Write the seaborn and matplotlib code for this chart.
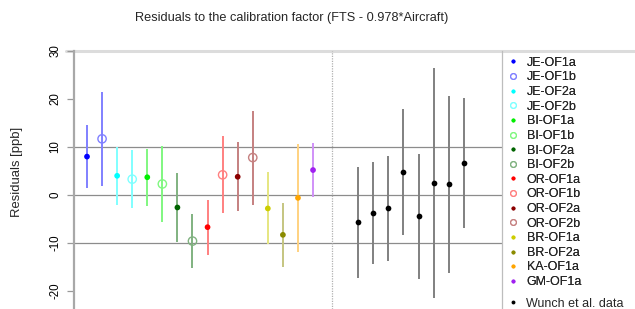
import numpy as np
import pandas as pd
import seaborn as sns
import matplotlib.pyplot as plt
from matplotlib.lines import Line2D
from matplotlib.colors import to_rgb

# ---------------- data ----------------
series_names = ['JE-OF1a', 'JE-OF1b', 'JE-OF2a', 'JE-OF2b', 'BI-OF1a', 'BI-OF1b',
                'BI-OF2a', 'BI-OF2b', 'OR-OF1a', 'OR-OF1b', 'OR-OF2a', 'OR-OF2b',
                'BR-OF1a', 'BR-OF2a', 'KA-OF1a', 'GM-OF1a']
series_values = [8.0, 11.7, 4.0, 3.3, 3.7, 2.3, -2.6, -9.6, -6.7, 4.2, 3.8, 7.8,
                 -2.8, -8.3, -0.6, 5.2]
series_errors = [6.5, 9.8, 6.0, 6.1, 5.9, 8.0, 7.2, 5.6, 5.7, 8.0, 7.2, 9.8,
                 7.5, 6.6, 11.3, 5.6]
series_colors = ['#0000ff', '#0000ff', '#00ffff', '#00ffff', '#00ee00', '#00ee00',
                 '#006400', '#006400', '#ff0000', '#ff0000', '#8b0000', '#8b0000',
                 '#cdcd00', '#8b8b00', '#ffa500', '#a020f0']
series_filled = [True, False, True, False, True, False, True, False,
                 True, False, True, False, True, True, True, True]

wunch_values = [-5.7, -3.8, -2.8, 4.8, -4.4, 2.5, 2.2, 6.7]
wunch_errors = [11.6, 10.6, 11.0, 13.1, 13.0, 23.9, 18.4, 13.5]

title = 'Residuals to the calibration factor (FTS - 0.978*Aircraft)'
ylabel = 'Residuals [ppb]'


def faded(c, a=0.5):
    # colour drawn with transparency over white
    return tuple(1 - a * (1 - v) for v in to_rgb(c))


# ---------------- build table ----------------
df = pd.DataFrame({'name': series_names, 'value': series_values, 'err': series_errors,
                   'color': series_colors, 'filled': series_filled})
df['x'] = np.arange(1, len(df) + 1)
wunch = pd.DataFrame({'value': wunch_values, 'err': wunch_errors})
wunch['x'] = np.arange(19, 19 + len(wunch))

sns.set_style('white')
plt.rcParams['font.family'] = ['Liberation Sans', 'DejaVu Sans']

fig = plt.figure(figsize=(6.35, 3.09), dpi=100)
ax = fig.add_axes([73.5 / 635, 0.0, (502 - 73.5) / 635, 258 / 309])

# reference lines
for h in [-10, 0, 10]:
    ax.axhline(h, color='#8c8c8c', lw=0.9, zorder=0)
ax.axhline(30, xmin=-0.018, xmax=(635 - 73.5) / (502 - 73.5), color='#dcdcdc', lw=2.2,
           clip_on=False, zorder=0)
ax.axvline(17.25, color='#b0b0b0', lw=0.9, ls=(0, (1, 1)), zorder=0)

# error bars
for _, r in df.iterrows():
    ax.vlines(r['x'], r['value'] - r['err'], r['value'] + r['err'],
              color=faded(r['color']), lw=1.4, zorder=1)
ax.vlines(wunch['x'], wunch['value'] - wunch['err'], wunch['value'] + wunch['err'],
          color=faded('black', 0.5), lw=1.4, zorder=1)

# points
filled = df[df['filled']]
hollow = df[~df['filled']]
sns.scatterplot(data=filled, x='x', y='value', hue='name',
                palette=dict(zip(filled['name'], filled['color'])),
                s=17, linewidth=0, legend=False, ax=ax, zorder=3)
sns.scatterplot(data=hollow, x='x', y='value', hue='name',
                palette={n: faded(c) for n, c in zip(hollow['name'], hollow['color'])},
                s=36, linewidth=1.0, legend=False, ax=ax, zorder=3)
hollow_pts = ax.collections[-1]
hollow_pts.set_edgecolor([faded(c) for c in hollow['color']])
hollow_pts.set_facecolor('none')
sns.scatterplot(data=wunch, x='x', y='value', color='black', s=17, linewidth=0,
                legend=False, ax=ax, zorder=3)

ax.set_xlim(0.104, 28.54)
ax.set_ylim(-23.75, 30)
ax.set_xticks([])
ax.set_yticks([-20, -10, 0, 10, 20, 30])
ax.set_yticklabels(['-20', '-10', '0', '10', '20', '30'], rotation=90, va='center',
                   fontsize=8.3)
ax.tick_params(axis='y', left=True, length=5.4, width=0.9, color='#999999', pad=3.5,
               labelcolor='black')
ax.set_xlabel('')
ax.set_ylabel(ylabel, fontsize=9.4)
ax.yaxis.set_label_coords(-(73.5 - 23) / (502 - 73.5), (309 - 172) / 258)

for s in ['top', 'bottom']:
    ax.spines[s].set_visible(False)
ax.spines['left'].set_color('#a8a8a8')
ax.spines['left'].set_linewidth(1.6)
ax.spines['right'].set_color('#bdbdbd')
ax.spines['right'].set_linewidth(0.9)

fig.text(292 / 635, 1 - 18 / 309, title, ha='center', va='center', fontsize=9.2)

# legend
handles = []
for _, r in df.iterrows():
    if r['filled']:
        h = Line2D([], [], ls='', marker='o', ms=2.8, color=r['color'], mew=0)
    else:
        h = Line2D([], [], ls='', marker='o', ms=4.2, mfc='none', mec=faded(r['color']),
                   mew=0.8)
    handles.append(h)
leg1 = fig.legend(handles, list(df['name']), loc='upper left',
                  bbox_to_anchor=(504 / 635, 1 - 53 / 309), frameon=False,
                  fontsize=9, labelspacing=0.21, handlelength=0.8, handletextpad=0.7,
                  borderaxespad=0, borderpad=0.3)
leg2 = fig.legend([Line2D([], [], ls='', marker='o', ms=2.8, color='black', mew=0)],
                  ['Wunch et al. data'], loc='upper left',
                  bbox_to_anchor=(504 / 635, 1 - 294 / 309), frameon=False,
                  fontsize=9, handlelength=0.8, handletextpad=0.7,
                  borderaxespad=0, borderpad=0.3)
fig.add_artist(leg1)

fig.savefig('out.png', dpi=100)
